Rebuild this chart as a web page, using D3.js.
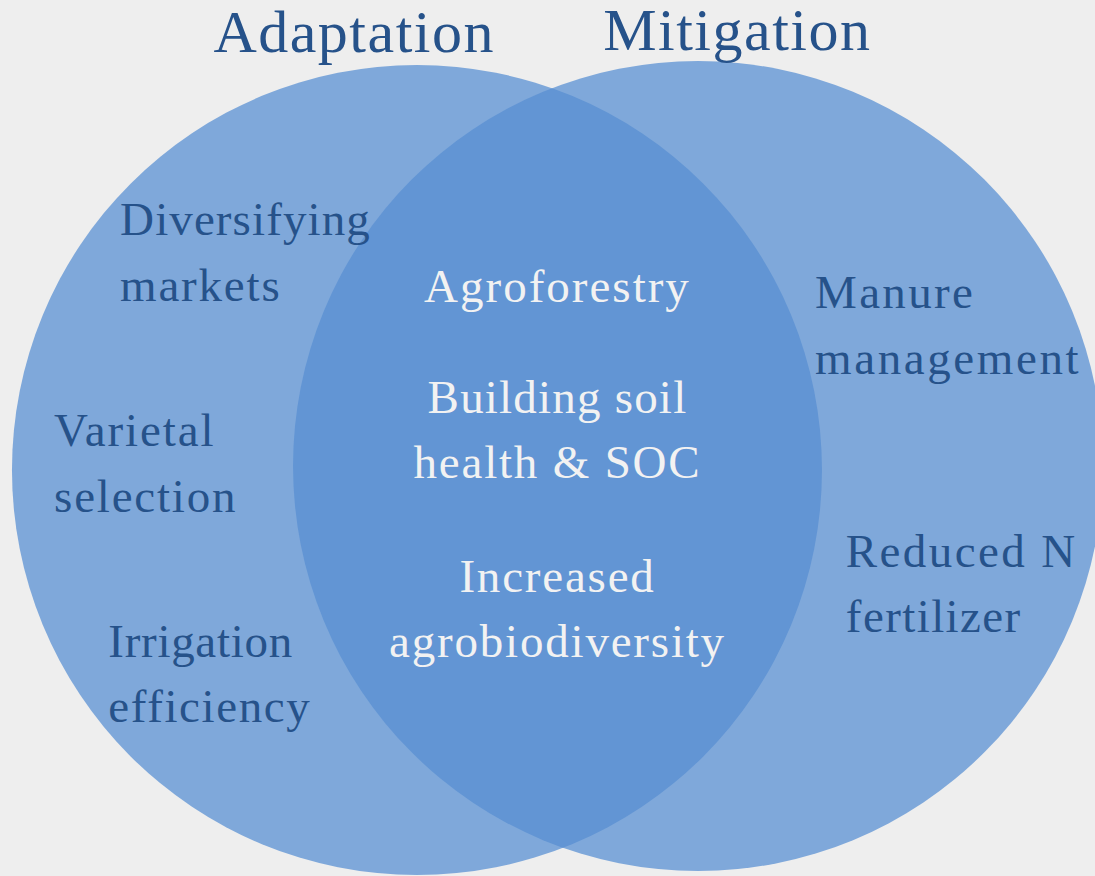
<!DOCTYPE html>
<html>
<head>
<meta charset="utf-8">
<script src="https://cdn.jsdelivr.net/npm/d3@7"></script>
<style>
  html, body { margin: 0; padding: 0; background: #eeeeee; }
  svg { display: block; }
</style>
</head>
<body>
<svg id="chart" width="1095" height="876"></svg>
<script>
// ---- data (Venn units: radius = 1) ----
const setNames = ["Adaptation", "Mitigation"];
const setCx = [-0.347, 0.347];
const setCy = [0.005, -0.005];
const setR = [1.0, 1.0];
const titleX = [-0.502, 0.444];
const titleY = [-1.027, -1.032];

// labels: lines, anchor x, first-baseline y, region
const labelLines = [
  ["Diversifying", "markets"],
  ["Varietal", "selection"],
  ["Irrigation", "efficiency"],
  ["Agroforestry"],
  ["Building soil", "health & SOC"],
  ["Increased", "agrobiodiversity"],
  ["Manure", "management"],
  ["Reduced N", "fertilizer"]
];
const labelX = [-1.080, -1.243, -1.109, 0, 0, 0, 0.636, 0.712];
const labelY = [-0.575, -0.054, 0.466, -0.410, -0.136, 0.306, -0.395, 0.244];
const labelRegion = ["A", "A", "A", "AB", "AB", "AB", "B", "B"];

// ---- style (per-line letter spacing, px) ----
const lineSpacing = [
  [1.1, 1.8],
  [1.9, 1.8],
  [0.7, 1.6],
  [2.0],
  [1.2, 1.8],
  [1.8, 1.8],
  [2.3, 2.6],
  [2.4, 1.4]
];

// ---- layout ----
const W = 1095, H = 876;
const cxPix = 557.5, cyPix = 468, rPix = 405;
const x = d3.scaleLinear().domain([-1, 1]).range([cxPix - rPix, cxPix + rPix]);
const y = d3.scaleLinear().domain([-1, 1]).range([cyPix - rPix, cyPix + rPix]);
const rs = d3.scaleLinear().domain([0, 1]).range([0, rPix]);

const svg = d3.select("#chart");
svg.append("rect").attr("width", W).attr("height", H).attr("fill", "#eeeeee");

const sets = setNames.map((n, i) => ({ name: n, cx: setCx[i], cy: setCy[i], r: setR[i], tx: titleX[i], ty: titleY[i] }));

const defs = svg.append("defs");
defs.append("clipPath").attr("id", "clipA")
  .append("circle")
  .attr("cx", x(sets[0].cx)).attr("cy", y(sets[0].cy)).attr("r", rs(sets[0].r));

svg.selectAll("circle.set")
  .data(sets)
  .join("circle")
  .attr("class", "set")
  .attr("cx", d => x(d.cx))
  .attr("cy", d => y(d.cy))
  .attr("r", d => rs(d.r))
  .attr("fill", "#7fa8da");

// intersection
svg.append("circle")
  .attr("cx", x(sets[1].cx)).attr("cy", y(sets[1].cy)).attr("r", rs(sets[1].r))
  .attr("clip-path", "url(#clipA)")
  .attr("fill", "#6295d4");

const font = "'Liberation Serif', 'Times New Roman', serif";

svg.selectAll("text.title")
  .data(sets)
  .join("text")
  .attr("class", "title")
  .attr("x", d => x(d.tx))
  .attr("y", d => y(d.ty))
  .attr("text-anchor", "middle")
  .attr("font-family", font)
  .attr("font-size", 60)
  .attr("letter-spacing", 1.5)
  .attr("fill", "#26528a")
  .text(d => d.name);

const labels = labelLines.map((lines, i) => ({ lines, x: labelX[i], y: labelY[i], region: labelRegion[i], sp: lineSpacing[i] }));
const lineH = 65.5;

const lg = svg.selectAll("text.label")
  .data(labels)
  .join("text")
  .attr("class", "label")
  .attr("font-family", font)
  .attr("font-size", 47)
  .attr("text-anchor", d => d.region === "AB" ? "middle" : "start")
  .attr("fill", d => d.region === "AB" ? "#f2f2f2" : "#26528a");

lg.selectAll("tspan")
  .data(d => d.lines.map((t, k) => ({ t, k, d })))
  .join("tspan")
  .attr("x", o => x(o.d.x))
  .attr("y", o => y(o.d.y) + o.k * lineH)
  .attr("letter-spacing", o => o.d.sp[o.k])
  .text(o => o.t);
</script>
</body>
</html>
